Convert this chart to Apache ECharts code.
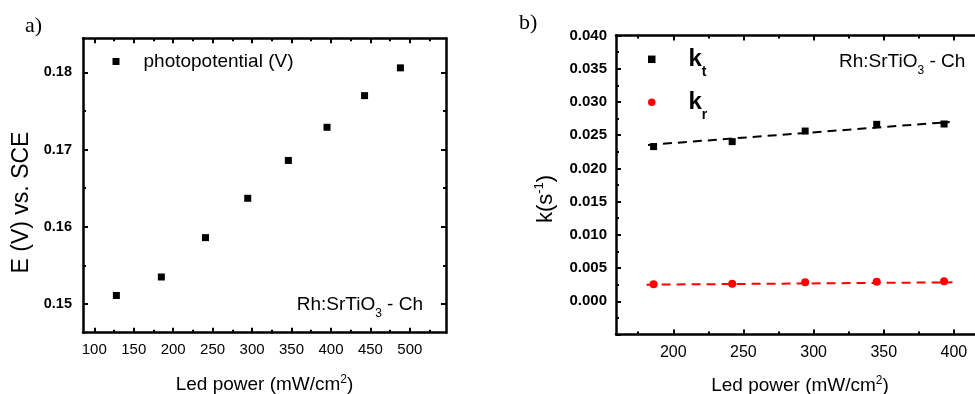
<!DOCTYPE html>
<html><head><meta charset="utf-8">
<script src="https://cdn.jsdelivr.net/npm/echarts@6/dist/echarts.min.js"></script>
<style>html,body{margin:0;padding:0;background:#fff}#c{width:975px;height:394px}</style>
</head><body><div id="c"></div>
<script>
// ---- Panel a) data ----
const powerA = [128, 185, 241, 294.5, 346, 395, 442.6, 488];
const photopotential = [0.1511, 0.1535, 0.1586, 0.1637, 0.1686, 0.1729, 0.1770, 0.1806];
// ---- Panel b) data ----
const powerB = [186, 242, 294, 345, 393];
const kt = [0.02328, 0.02403, 0.02562, 0.02663, 0.02668];
const kr = [0.00255, 0.00264, 0.00285, 0.00294, 0.00300];
// dashed fit lines (end points)
const fitKtX = [182, 397];
const fitKtY = [0.02353, 0.02698];
const fitKrX = [181, 399];
const fitKrY = [0.00250, 0.00285];
// ---- ticks ----
const xTicksA = [100, 150, 200, 250, 300, 350, 400, 450, 500];
const xMinorA = [125, 175, 225, 275, 325, 375, 425, 475, 525];
const yTicksA = [0.15, 0.16, 0.17, 0.18];
const yMinorA = [0.155, 0.165, 0.175];
const xTicksB = [200, 250, 300, 350, 400];
const xMinorB = [175, 225, 275, 325, 375, 425];
const yTicksB = [0, 0.005, 0.01, 0.015, 0.02, 0.025, 0.03, 0.035, 0.04];
const yMinorB = [-0.0025, 0.0025, 0.0075, 0.0125, 0.0175, 0.0225, 0.0275, 0.0325, 0.0375];

const FONT = '"Liberation Sans", Arial, sans-serif';
const SERIF = '"Liberation Serif", "Times New Roman", serif';

function axisSet(dim, gridIndex, min, max, major, minor, label, name) {
  const pos = dim === 'x' ? ['bottom', 'top'] : ['left', 'right'];
  const base = (position, vals, len, showLabel, showLine) => ({
    type: 'value', gridIndex, min, max, position,
    axisLine: { show: showLine, onZero: false, lineStyle: { color: '#000', width: 2.5 } },
    splitLine: { show: false },
    axisTick: { show: true, inside: true, length: len, customValues: vals,
                lineStyle: { color: '#000', width: 2 } },
    axisLabel: showLabel ? Object.assign({ customValues: major.filter(v => v >= min && v <= max) }, label) : { show: false }
  });
  const main = base(pos[0], major, 5, true, true);
  if (name) Object.assign(main, name);
  return [main, base(pos[0], minor, 3, false, false), base(pos[1], major, 5, false, true), base(pos[1], minor, 3, false, false)];
}

const supRich = { sup: { fontSize: 12, fontFamily: FONT, color: '#000', verticalAlign: 'top', lineHeight: 12 } };

const xAxes = [].concat(
  axisSet('x', 0, 85.7, 545.8, xTicksA, xMinorA,
    { margin: 10, fontSize: 15, fontFamily: FONT, color: '#000', formatter: v => String(v) },
    { name: 'Led power (mW/cm{sup|2})', nameLocation: 'middle', nameGap: 41,
      nameTextStyle: { fontSize: 19, fontFamily: FONT, color: '#000', lineHeight: 22, rich: supRich } }),
  axisSet('x', 1, 159.2, 430, xTicksB, xMinorB,
    { margin: 10, fontSize: 16, fontFamily: FONT, color: '#000', formatter: v => String(v) },
    { name: 'Led power (mW/cm{sup|2})', nameLocation: 'middle', nameGap: 40,
      nameTextStyle: { fontSize: 19, fontFamily: FONT, color: '#000', lineHeight: 22, padding: [0, 12, 0, 0], rich: supRich } })
);
const yAxes = [].concat(
  axisSet('y', 0, 0.14628, 0.18443, yTicksA, yMinorA,
    { margin: 11, fontSize: 14.5, fontWeight: 'bold', fontFamily: FONT, color: '#000', formatter: v => v.toFixed(2) },
    { name: 'E (V) vs. SCE', nameLocation: 'middle', nameGap: 48,
      nameTextStyle: { fontSize: 23, fontFamily: FONT, color: '#000', lineHeight: 26, padding: [0, 34, 0, 0] } }),
  axisSet('y', 1, -0.005, 0.04, [-0.005].concat(yTicksB), yMinorB,
    { margin: 9, fontSize: 15, fontWeight: 'bold', fontFamily: FONT, color: '#000', formatter: v => v.toFixed(3) },
    { name: 'k(s{sup|-1})', nameLocation: 'middle', nameGap: 57,
      nameTextStyle: { fontSize: 22, fontFamily: FONT, color: '#000', lineHeight: 26, padding: [0, 28, 0, 0],
        rich: { sup: { fontSize: 13, fontFamily: FONT, color: '#000', verticalAlign: 'top', lineHeight: 13 } } } })
);
// panel b y labels: hide -0.005
yAxes[4].axisLabel.customValues = yTicksB;

const annotRich = {
  m: { fontSize: 19, fontFamily: FONT, color: '#000', lineHeight: 30 },
  s: { fontSize: 12, fontFamily: FONT, color: '#000', lineHeight: 12, verticalAlign: 'bottom' }
};

const option = {
  animation: false,
  backgroundColor: '#fff',
  grid: [
    { left: 83, top: 38.3, width: 363, height: 294.4, outerBoundsMode: 'none', containLabel: false },
    { left: 616, top: 35.5, width: 380, height: 299, outerBoundsMode: 'none', containLabel: false }
  ],
  xAxis: xAxes,
  yAxis: yAxes,
  legend: [
    { data: [{ name: 'photopotential (V)', icon: 'rect' }], orient: 'vertical', left: 112.5, top: 51.5, padding: 0,
      itemWidth: 7, itemHeight: 7, selectedMode: false,
      formatter: n => '{sp| }' + n,
      textStyle: { fontSize: 19, fontFamily: FONT, color: '#000', lineHeight: 20,
        rich: { sp: { width: 19, fontSize: 19, lineHeight: 20 } } } },
    { data: [{ name: 'kt', icon: 'rect' }, { name: 'kr', icon: 'circle' }], orient: 'vertical', left: 648, top: 47.3, padding: 0,
      itemWidth: 7.5, itemHeight: 7.5, itemGap: 11, selectedMode: false,
      formatter: n => n === 'kt' ? '{sp| }{k|k}{s|t}' : '{sp| }{k|k}{s|r}',
      textStyle: { color: '#000', rich: {
        sp: { width: 28, fontSize: 14, lineHeight: 14 },
        k: { fontSize: 24, fontWeight: 'bold', fontFamily: FONT, color: '#000', lineHeight: 40 },
        s: { fontSize: 14, fontWeight: 'bold', fontFamily: FONT, color: '#000', lineHeight: 14, verticalAlign: 'bottom' } } } }
  ],
  graphic: [
    { type: 'text', x: 25, y: 26, style: { text: 'a)', fontSize: 22, fontFamily: SERIF, fill: '#000', verticalAlign: 'middle' } },
    { type: 'text', x: 519, y: 23, style: { text: 'b)', fontSize: 22, fontFamily: SERIF, fill: '#000', verticalAlign: 'middle' } },
    { type: 'text', x: 296.7, y: 305, style: { text: '{m|Rh:SrTiO}{s|3}{m| - Ch}', verticalAlign: 'middle', rich: annotRich } },
    { type: 'text', x: 839, y: 61.7, style: { text: '{m|Rh:SrTiO}{s|3}{m| - Ch}', verticalAlign: 'middle', rich: annotRich } }
  ],
  series: [
    { name: 'photopotential (V)', type: 'scatter', xAxisIndex: 0, yAxisIndex: 0, symbol: 'rect', symbolSize: 7,
      itemStyle: { color: '#000', opacity: 1 }, data: powerA.map((x, i) => [x, photopotential[i]]) },
    { name: 'kt fit', type: 'line', xAxisIndex: 4, yAxisIndex: 4, symbol: 'none', silent: true,
      lineStyle: { color: '#000', width: 2, type: [9, 6] }, data: fitKtX.map((x, i) => [x, fitKtY[i]]) },
    { name: 'kr fit', type: 'line', xAxisIndex: 4, yAxisIndex: 4, symbol: 'none', silent: true,
      lineStyle: { color: '#ff0000', width: 2, type: [9, 6] }, data: fitKrX.map((x, i) => [x, fitKrY[i]]) },
    { name: 'kt', type: 'scatter', xAxisIndex: 4, yAxisIndex: 4, symbol: 'rect', symbolSize: 7,
      itemStyle: { color: '#000', opacity: 1 }, data: powerB.map((x, i) => [x, kt[i]]) },
    { name: 'kr', type: 'scatter', xAxisIndex: 4, yAxisIndex: 4, symbol: 'circle', symbolSize: 8,
      itemStyle: { color: '#ff0000', opacity: 1 }, data: powerB.map((x, i) => [x, kr[i]]) }
  ]
};
const chart = echarts.init(document.getElementById('c'), null, { renderer: 'canvas' });
chart.setOption(option);
</script>
</body></html>
